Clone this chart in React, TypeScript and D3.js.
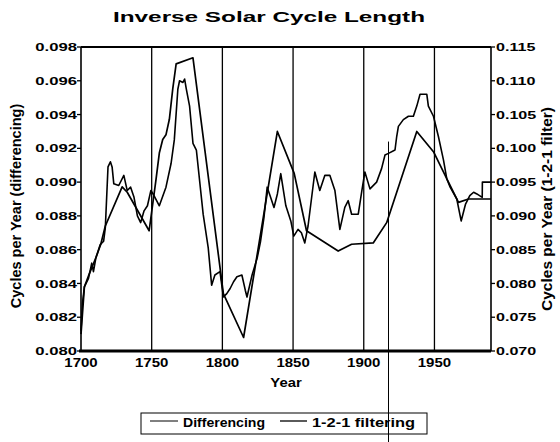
import React from 'react';
import * as d3 from 'd3';

// chart text
const title = 'Inverse Solar Cycle Length';
const leftTitle = 'Cycles per Year (differencing)';
const rightTitle = 'Cycles per Year (1-2-1 filter)';
const xTitle = 'Year';
const legendLabels = ['Differencing', '1-2-1 filtering'];

// ticks
const xTicks = [1700, 1750, 1800, 1850, 1900, 1950];
const gridYears = [1750, 1800, 1850, 1900, 1950];
const leftTicks = [0.080, 0.082, 0.084, 0.086, 0.088, 0.090, 0.092, 0.094, 0.096, 0.098];
const rightTicks = [0.070, 0.075, 0.080, 0.085, 0.090, 0.095, 0.100, 0.105, 0.110, 0.115];
const scanMarkYear = 1917.5;

// differencing series (left axis) [year, cycles per year]
const diffSeries: [number, number][] = [
  [1700, 0.0812], [1701, 0.0828], [1702.4, 0.0838], [1705.3, 0.0843], [1707.6, 0.0852],
  [1708.8, 0.0847], [1710.5, 0.0855], [1713.6, 0.0863], [1716, 0.0865], [1717.2, 0.0873],
  [1719.1, 0.0909], [1720.8, 0.0912], [1722, 0.0909], [1723.2, 0.0899], [1726.7, 0.0898],
  [1730.3, 0.0904], [1732.7, 0.0895], [1735.1, 0.0897], [1737.5, 0.0891], [1739.9, 0.0880],
  [1742.2, 0.0876], [1744.6, 0.0883], [1747, 0.0886], [1749.4, 0.0895], [1751, 0.0893],
  [1755.4, 0.0886], [1760.1, 0.0897], [1763.7, 0.0911], [1766, 0.0925], [1768.5, 0.0955],
  [1769.7, 0.0960], [1772.1, 0.0959], [1773.3, 0.0961], [1774.5, 0.0955], [1776.8, 0.0945],
  [1779.2, 0.0923], [1781.6, 0.0919], [1786.4, 0.0881], [1790, 0.0861], [1792.4, 0.0839],
  [1794.7, 0.0845], [1798.3, 0.0847], [1800.7, 0.0832], [1803.1, 0.0834], [1805.5, 0.0837],
  [1807.9, 0.0841], [1810.3, 0.0844], [1813.8, 0.0845], [1816.2, 0.0836], [1817.4, 0.0832],
  [1821, 0.0845], [1824.6, 0.0855], [1827, 0.0865], [1829.4, 0.0879], [1831.7, 0.0897],
  [1834.1, 0.0891], [1836.5, 0.0885], [1838.9, 0.0893], [1841.3, 0.0905], [1844.9, 0.0886],
  [1848.4, 0.0877], [1850.5, 0.0868], [1853.5, 0.0872], [1855.9, 0.0870], [1858.3, 0.0864],
  [1860.6, 0.0874], [1865.4, 0.0906], [1868.9, 0.0895], [1872.5, 0.0904], [1876, 0.0904],
  [1879.6, 0.0895], [1883.1, 0.0872], [1886.6, 0.0885], [1889, 0.0889], [1891.4, 0.0881],
  [1896.1, 0.0881], [1898.5, 0.0894], [1900.8, 0.0906], [1904.4, 0.0896], [1909.1, 0.0900],
  [1912.6, 0.0908], [1915, 0.0916], [1917.5, 0.0917], [1922.1, 0.0919], [1923.3, 0.0927],
  [1924.5, 0.0933], [1928, 0.0937], [1931.6, 0.0939], [1935.1, 0.0939], [1937.5, 0.0945],
  [1939.8, 0.0952], [1944.6, 0.0952], [1945.7, 0.0945], [1949.3, 0.0939], [1952.8, 0.0927],
  [1956.4, 0.0913], [1958.7, 0.0902], [1961.1, 0.0897], [1965.8, 0.0890], [1968.9, 0.0877],
  [1972, 0.0887], [1975, 0.0892], [1977.7, 0.0894], [1980, 0.0893], [1983.8, 0.0891],
  [1983.9, 0.0900], [1990, 0.0900],
];

// 1-2-1 filtered series (right axis)
const filtSeries: [number, number][] = [
  [1700, 0.0725], [1702.4, 0.0795], [1706, 0.0815], [1710.5, 0.0838], [1714, 0.0858],
  [1717.2, 0.0885], [1729.1, 0.0943], [1732.7, 0.0935], [1748.2, 0.0878], [1753, 0.0953],
  [1755.4, 0.0993], [1757.8, 0.1013], [1760.1, 0.1020], [1762.5, 0.1043], [1764.9, 0.1088],
  [1767.3, 0.1125], [1779.2, 0.1134], [1800.7, 0.0785], [1815, 0.0720], [1838.9, 0.1025],
  [1850.8, 0.0963], [1859.5, 0.0878], [1881.9, 0.0848], [1891.4, 0.0858], [1906.7, 0.0860],
  [1916.2, 0.0890], [1937.5, 0.1025], [1949.3, 0.0995], [1958.7, 0.0955], [1967, 0.0920],
  [1974.1, 0.0925], [1990, 0.0925],
];

const W = 560;
const H = 442;
const margin = { top: 47, right: 69, bottom: 91, left: 81 };
const font = "'Liberation Sans', Arial, sans-serif";

function Txt(props: any) {
  const { x, y, sx = 1, anchor = 'start', size = 11, rotate, dy, children } = props;
  const tf = `translate(${x},${y}) scale(${sx},1)` + (rotate ? ` rotate(${rotate})` : '');
  return (
    <text transform={tf} textAnchor={anchor} fontSize={size} fontWeight="bold" dy={dy} fill="#000">
      {children}
    </text>
  );
}

export default function App() {
  const x = d3.scaleLinear().domain([1700, 1990]).range([margin.left, W - margin.right]);
  const yL = d3.scaleLinear().domain([0.080, 0.098]).range([H - margin.bottom, margin.top]);
  const yR = d3.scaleLinear().domain([0.070, 0.115]).range([H - margin.bottom, margin.top]);
  const fmt = d3.format('.3f');

  const diffLine = d3.line<[number, number]>().x(d => x(d[0])).y(d => yL(d[1]));
  const filtLine = d3.line<[number, number]>().x(d => x(d[0])).y(d => yR(d[1]));

  const x0 = x.range()[0];
  const x1 = x.range()[1];
  const yTop = margin.top;
  const yBot = H - margin.bottom;

  return (
    <svg width={W} height={H} style={{ position: 'absolute', left: 0, top: 0, background: '#fff' }}
      fontFamily={font}>
      <rect width={W} height={H} fill="#fff" />

      {/* title */}
      <text x={113} y={22} fontSize={15} fontWeight="bold" textLength={312} lengthAdjust="spacingAndGlyphs">
        {title}
      </text>

      {/* grid */}
      {gridYears.map(g => (
        <line key={g} x1={x(g)} x2={x(g)} y1={yTop} y2={yBot} stroke="#000" strokeWidth={1.3} />
      ))}
      <line x1={x(scanMarkYear)} x2={x(scanMarkYear)} y1={yL(0.0924)} y2={H} stroke="#000" strokeWidth={1} />

      {/* series */}
      <path d={diffLine(diffSeries) || ''} fill="none" stroke="#000" strokeWidth={1.6} strokeLinejoin="round" />
      <path d={filtLine(filtSeries) || ''} fill="none" stroke="#000" strokeWidth={1.7} strokeLinejoin="round" />

      {/* frame / axes */}
      <line x1={x0} x2={x1} y1={yTop} y2={yTop} stroke="#000" strokeWidth={2} />
      <line x1={x0 - 2} x2={x1} y1={yBot} y2={yBot} stroke="#000" strokeWidth={3} />
      <line x1={x0} x2={x0} y1={yTop} y2={yBot} stroke="#000" strokeWidth={1.6} />
      <line x1={x1} x2={x1} y1={yTop} y2={yBot} stroke="#000" strokeWidth={1.6} />

      {/* left axis */}
      {leftTicks.map(t => (
        <g key={'l' + t}>
          <line x1={x0 - 4} x2={x0} y1={yL(t)} y2={yL(t)} stroke="#000" strokeWidth={1.3} />
          <Txt x={x0 - 4} y={yL(t)} dy="0.36em" anchor="end" sx={1.45} size={11.5}>{fmt(t)}</Txt>
        </g>
      ))}

      {/* right axis */}
      {rightTicks.map(t => (
        <g key={'r' + t}>
          <line x1={x1} x2={x1 + 4} y1={yR(t)} y2={yR(t)} stroke="#000" strokeWidth={1.3} />
          <Txt x={x1 + 5} y={yR(t)} dy="0.36em" anchor="start" sx={1.4} size={11.5}>{fmt(t)}</Txt>
        </g>
      ))}

      {/* x axis */}
      {xTicks.map(t => (
        <Txt key={'x' + t} x={x(t)} y={yBot + 16} anchor="middle" sx={1.2} size={12.5}>{t}</Txt>
      ))}
      <Txt x={(x0 + x1) / 2} y={yBot + 36} anchor="middle" sx={1.14} size={13}>{xTitle}</Txt>

      {/* axis titles */}
      <Txt x={21} y={(yTop + yBot) / 2 + 7} anchor="middle" size={14.5} rotate={-90}>{leftTitle}</Txt>
      <Txt x={552} y={(yTop + yBot) / 2 + 10} anchor="middle" size={15.5} rotate={-90}>{rightTitle}</Txt>

      {/* legend */}
      <rect x={141} y={413} width={286} height={21} fill="none" stroke="#000" strokeWidth={1} />
      <line x1={150} x2={178} y1={421} y2={421} stroke="#000" strokeWidth={1} />
      <text x={183} y={427} fontSize={12} fontWeight="bold" textLength={82} lengthAdjust="spacingAndGlyphs">
        {legendLabels[0]}
      </text>
      <line x1={280} x2={307} y1={421} y2={421} stroke="#000" strokeWidth={1.3} />
      <text x={312} y={427} fontSize={12} fontWeight="bold" textLength={103} lengthAdjust="spacingAndGlyphs">
        {legendLabels[1]}
      </text>
    </svg>
  );
}
